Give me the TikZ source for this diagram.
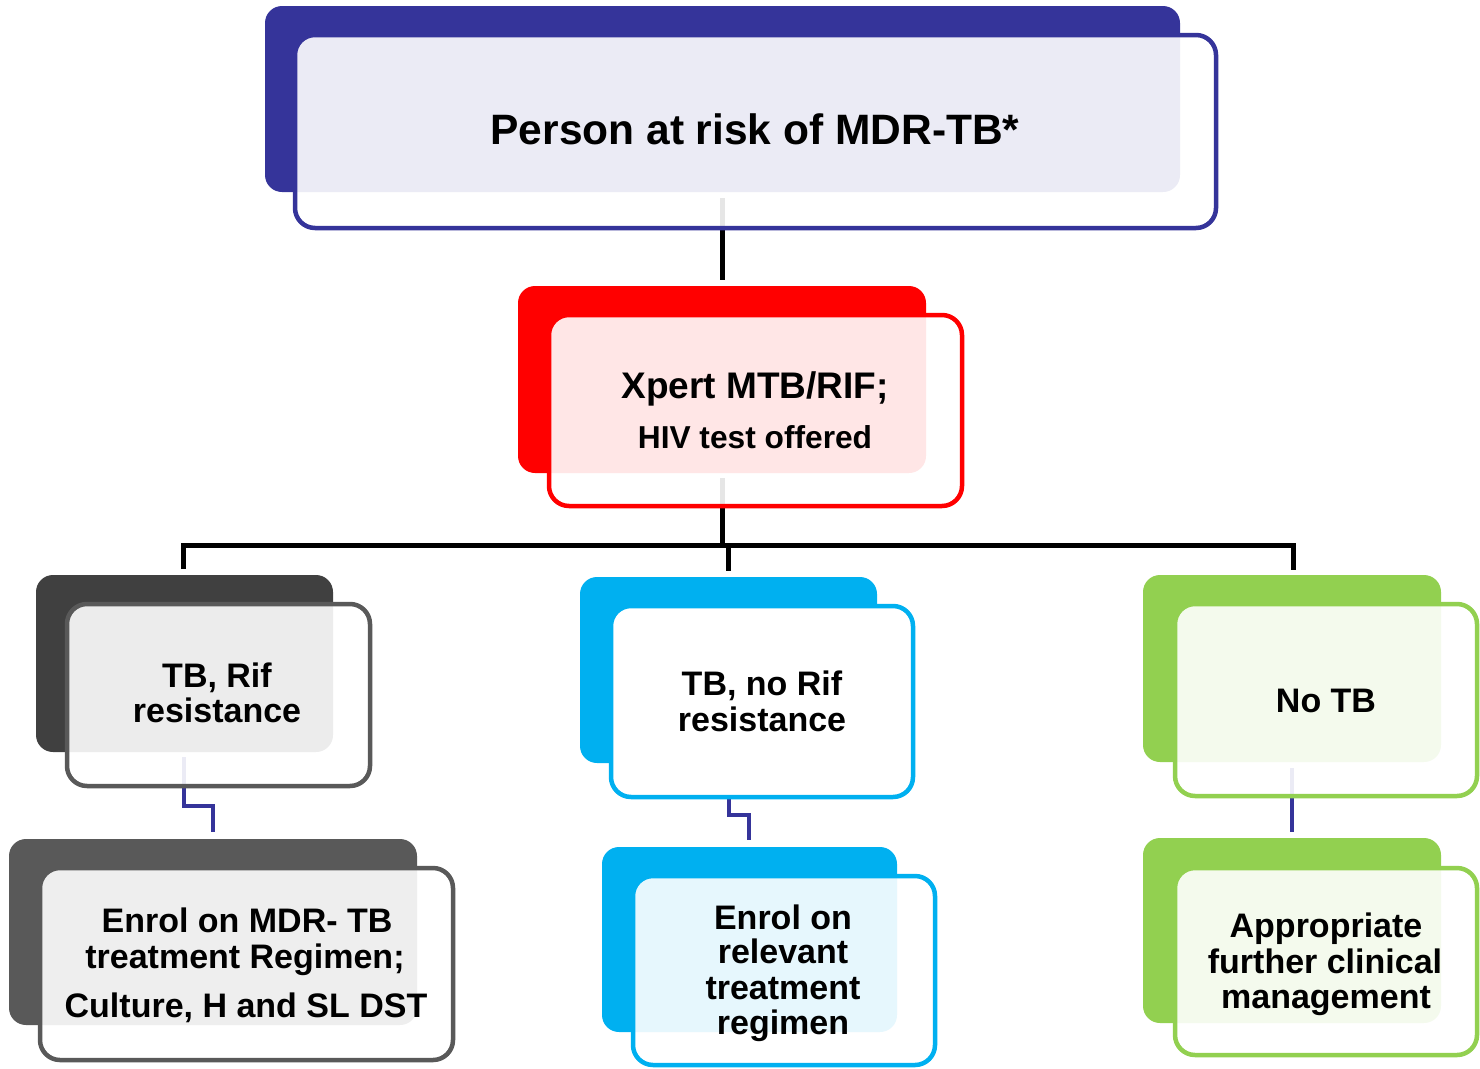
\documentclass[tikz,border=0pt]{standalone}
\usepackage{fontspec}
\setmainfont{Liberation Sans}
\definecolor{navy}{RGB}{53,52,154}
\definecolor{redc}{RGB}{255,0,0}
\definecolor{darkg}{RGB}{64,64,64}
\definecolor{midg}{RGB}{89,89,89}
\definecolor{cyanc}{RGB}{0,176,240}
\definecolor{greenc}{RGB}{146,208,80}
\begin{document}
\begin{tikzpicture}[x=1pt,y=-1pt,
  backbox/.style={fill=#1, draw=none, rounded corners=17pt, inner sep=0pt, outer sep=0pt, anchor=north west},
  frontbox/.style={draw=#1, line width=4.5pt, fill=white, fill opacity=0.9, draw opacity=1, rounded corners=20pt, inner sep=0pt, outer sep=0pt, anchor=north west},
  conn/.style={line width=5pt, draw=black},
  subconn/.style={line width=4.5pt, draw=navy},
  txt/.style={font=\bfseries\fontsize{34}{36}\selectfont, anchor=base, inner sep=0pt, text=black}
]
\useasboundingbox (0,0) rectangle (1480,1068);

% back boxes
\node[backbox=navy,  minimum width=915pt, minimum height=186pt] (b0) at (265,6) {};
\node[backbox=redc,  minimum width=408pt, minimum height=187pt] (b1) at (518,286) {};
\node[backbox=darkg, minimum width=297pt, minimum height=177pt] (b2) at (36,575) {};
\node[backbox=cyanc, minimum width=297pt, minimum height=186pt] (b3) at (580,577) {};
\node[backbox=greenc,minimum width=298pt, minimum height=187pt] (b4) at (1143,575) {};
\node[backbox=midg,  minimum width=408pt, minimum height=186pt] (b5) at (9,839) {};
\node[backbox=cyanc, minimum width=295pt, minimum height=185pt] (b6) at (602,847) {};
\node[backbox=greenc,minimum width=298pt, minimum height=185pt] (b7) at (1143,838) {};

% connector points
\coordinate (p0a) at (722,198);
\coordinate (p0b) at (722,280);
\coordinate (p1a) at (722,478);
\coordinate (p1b) at (722,545);
\coordinate (jl) at (183,569);
\coordinate (jm) at (728,571);
\coordinate (jmt) at (728,545);
\coordinate (jr) at (1293,570);
\coordinate (s2a) at (184,757);
\coordinate (s2b) at (213,832);
\coordinate (s3a) at (729,790);
\coordinate (s3b) at (749,840);
\coordinate (s4a) at (1292,768);
\coordinate (s4b) at (1292,832);

% connectors
\draw[conn] (p0a) -- (p0b);
\draw[conn] (p1a) -- (p1b);
\draw[conn] (jl) -- (jl |- p1b) -- (jr |- p1b) -- (jr);
\draw[conn] (jmt) -- (jm);
\draw[subconn] (s2a) -- (184,806) -- (213,806) -- (s2b);
\draw[subconn] (s3a) -- (729,815) -- (749,815) -- (s3b);
\draw[subconn] (s4a) -- (s4b);

% front boxes
\node[frontbox=navy,  minimum width=921pt, minimum height=193pt] (f0) at (295,35) {};
\node[frontbox=redc,  minimum width=413pt, minimum height=191pt] (f1) at (549,315) {};
\node[frontbox=midg,  minimum width=303pt, minimum height=182pt] (f2) at (67,604) {};
\node[frontbox=cyanc, minimum width=302pt, minimum height=191pt, fill opacity=1] (f3) at (611,606) {};
\node[frontbox=greenc,minimum width=302pt, minimum height=192pt] (f4) at (1175,604) {};
\node[frontbox=midg,  minimum width=413pt, minimum height=192pt] (f5) at (40,868) {};
\node[frontbox=cyanc, minimum width=302pt, minimum height=189pt] (f6) at (633,876) {};
\node[frontbox=greenc,minimum width=302pt, minimum height=187pt] (f7) at (1175,868) {};

% texts
\node[txt, font=\bfseries\fontsize{42.5}{45}\selectfont] (t0) at (755,144) {Person at risk of MDR-TB*};
\node[txt, font=\bfseries\fontsize{37}{40}\selectfont] (t1a) at (755,398) {Xpert MTB/RIF;};
\node[txt, font=\bfseries\fontsize{31.7}{34}\selectfont] (t1b) at (755,448) {HIV test offered};
\node[txt] (t2a) at (217,687) {TB, Rif};
\node[txt] (t2b) at (217,722) {resistance};
\node[txt] (t3a) at (762,695) {TB, no Rif};
\node[txt] (t3b) at (762,731) {resistance};
\node[txt] (t4a) at (1326,712) {No TB};
\node[txt] (t5a) at (247,932) {Enrol on MDR- TB};
\node[txt] (t5b) at (245,968) {treatment Regimen;};
\node[txt] (t5c) at (246,1017) {Culture, H and SL DST};
\node[txt] (t6a) at (783,929) {Enrol on};
\node[txt] (t6b) at (783,963) {relevant};
\node[txt] (t6c) at (783,999) {treatment};
\node[txt] (t6d) at (783,1034) {regimen};
\node[txt] (t7a) at (1326,937) {Appropriate};
\node[txt] (t7b) at (1325,973) {further clinical};
\node[txt] (t7c) at (1326,1008) {management};
\end{tikzpicture}
\end{document}
